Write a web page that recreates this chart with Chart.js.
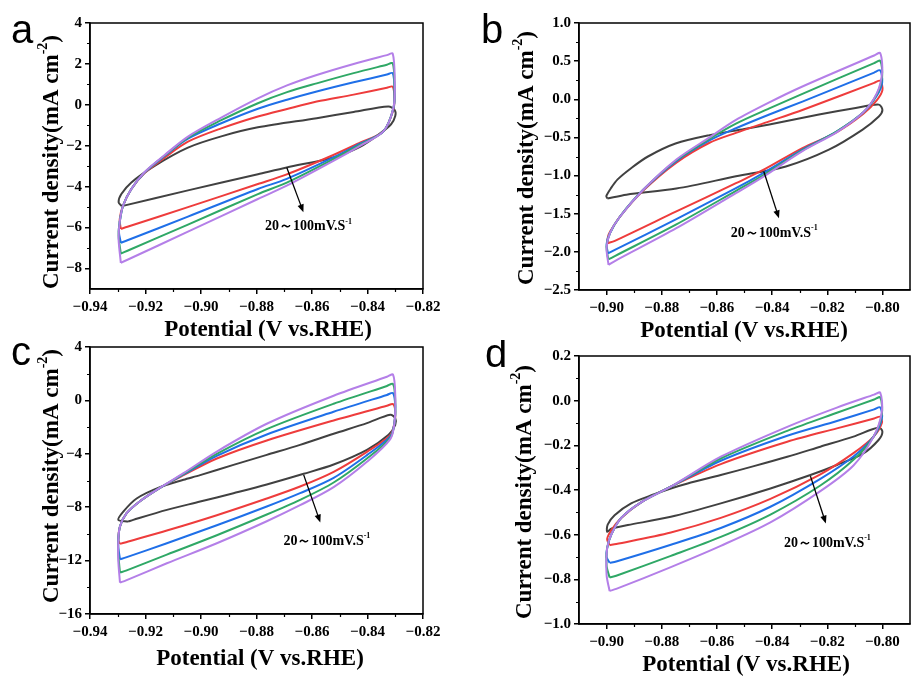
<!DOCTYPE html>
<html>
<head>
<meta charset="utf-8">
<script src="https://cdn.jsdelivr.net/npm/chart.js@4.4.0/dist/chart.umd.min.js"></script>
<style>
html, body { margin: 0; padding: 0; background: #fff; }
#wrap { position: relative; width: 911px; height: 680px; overflow: hidden; }
canvas { position: absolute; }
</style>
</head>
<body>
<div id="wrap">
  <canvas id="ca" width="455" height="346" style="left:0;top:0"></canvas>
  <canvas id="cb" width="456" height="346" style="left:455px;top:0"></canvas>
  <canvas id="cc" width="455" height="340" style="left:0;top:340px"></canvas>
  <canvas id="cd" width="456" height="340" style="left:455px;top:340px"></canvas>
</div>
<script>
'use strict';

// Scan rates 20, 40, 60, 80, 100 mV/s, each loop as [potential, current density]
const a20 = [[-0.9285,-4.95],[-0.9297,-4.76],[-0.9287,-4.36],[-0.9251,-3.79],[-0.9167,-2.98],[-0.9047,-2.09],[-0.8927,-1.54],[-0.8795,-1.10],[-0.8583,-0.65],[-0.8450,-0.35],[-0.8325,-0.08],[-0.8302,-0.25],[-0.8300,-0.55],[-0.8315,-0.95],[-0.8360,-1.45],[-0.8427,-2.05],[-0.8523,-2.57],[-0.8691,-3.06],[-0.8795,-3.39],[-0.9047,-4.18],[-0.9285,-4.95]];
const a40 = [[-0.9289,-6.06],[-0.9293,-5.60],[-0.9281,-4.93],[-0.9251,-4.11],[-0.9203,-3.33],[-0.9131,-2.58],[-0.9047,-1.80],[-0.8927,-1.15],[-0.8795,-0.57],[-0.8690,-0.20],[-0.8583,0.16],[-0.8450,0.50],[-0.8330,0.84],[-0.8309,0.89],[-0.8303,0.30],[-0.8308,-0.30],[-0.8343,-1.30],[-0.8427,-1.85],[-0.8523,-2.45],[-0.8691,-3.40],[-0.8795,-3.87],[-0.9047,-5.00],[-0.9265,-5.96],[-0.9289,-6.06]];
const a60 = [[-0.9289,-6.74],[-0.9296,-6.20],[-0.9293,-5.73],[-0.9281,-4.93],[-0.9251,-4.11],[-0.9203,-3.31],[-0.9131,-2.50],[-0.9047,-1.65],[-0.8927,-0.90],[-0.8795,-0.19],[-0.8690,0.25],[-0.8583,0.65],[-0.8450,1.10],[-0.8330,1.48],[-0.8309,1.55],[-0.8303,0.70],[-0.8306,-0.15],[-0.8343,-1.30],[-0.8427,-1.90],[-0.8523,-2.57],[-0.8691,-3.62],[-0.8795,-4.11],[-0.9047,-5.46],[-0.9265,-6.62],[-0.9289,-6.74]];
const a80 = [[-0.9289,-7.27],[-0.9297,-6.40],[-0.9293,-5.73],[-0.9281,-4.93],[-0.9251,-4.11],[-0.9203,-3.30],[-0.9131,-2.48],[-0.9047,-1.60],[-0.8927,-0.75],[-0.8795,0.08],[-0.8690,0.62],[-0.8583,1.05],[-0.8450,1.55],[-0.8330,1.96],[-0.8309,2.03],[-0.8303,1.00],[-0.8306,-0.10],[-0.8343,-1.30],[-0.8427,-1.95],[-0.8523,-2.65],[-0.8691,-3.80],[-0.8795,-4.36],[-0.9047,-5.85],[-0.9265,-7.13],[-0.9289,-7.27]];
const a100 = [[-0.9289,-7.72],[-0.9297,-6.54],[-0.9293,-5.73],[-0.9281,-4.93],[-0.9251,-4.11],[-0.9203,-3.28],[-0.9131,-2.45],[-0.9047,-1.55],[-0.8927,-0.62],[-0.8795,0.32],[-0.8690,0.95],[-0.8583,1.46],[-0.8450,2.00],[-0.8330,2.43],[-0.8309,2.50],[-0.8302,1.20],[-0.8306,-0.10],[-0.8343,-1.30],[-0.8427,-2.00],[-0.8523,-2.74],[-0.8691,-3.95],[-0.8795,-4.60],[-0.9047,-6.20],[-0.9265,-7.57],[-0.9289,-7.72]];

const b20 = [[-0.8997,-1.30],[-0.9001,-1.27],[-0.8985,-1.17],[-0.8960,-1.05],[-0.8910,-0.90],[-0.8850,-0.75],[-0.8750,-0.58],[-0.8627,-0.47],[-0.8500,-0.39],[-0.8410,-0.33],[-0.8230,-0.20],[-0.8097,-0.115],[-0.8013,-0.07],[-0.8000,-0.14],[-0.8013,-0.225],[-0.8073,-0.40],[-0.8194,-0.66],[-0.8350,-0.88],[-0.8531,-1.01],[-0.8747,-1.17],[-0.8928,-1.25],[-0.8997,-1.30]];
const b40 = [[-0.8997,-1.887],[-0.8995,-1.80],[-0.8988,-1.74],[-0.8952,-1.54],[-0.8868,-1.20],[-0.8747,-0.83],[-0.8627,-0.57],[-0.8531,-0.44],[-0.8410,-0.29],[-0.8290,-0.14],[-0.8030,0.215],[-0.8008,0.243],[-0.8000,0.12],[-0.8020,-0.01],[-0.8069,-0.19],[-0.8165,-0.43],[-0.8290,-0.64],[-0.8434,-0.93],[-0.8531,-1.10],[-0.8747,-1.47],[-0.8970,-1.855],[-0.8997,-1.887]];
const b60 = [[-0.8995,-2.02],[-0.9000,-1.90],[-0.8988,-1.756],[-0.8952,-1.54],[-0.8868,-1.19],[-0.8747,-0.81],[-0.8627,-0.54],[-0.8531,-0.38],[-0.8410,-0.20],[-0.8290,-0.03],[-0.8030,0.350],[-0.8008,0.378],[-0.8001,0.22],[-0.8020,0.05],[-0.8069,-0.17],[-0.8165,-0.42],[-0.8290,-0.66],[-0.8434,-0.97],[-0.8531,-1.165],[-0.8747,-1.57],[-0.8970,-1.975],[-0.8995,-2.02]];
const b80 = [[-0.8994,-2.10],[-0.9000,-1.93],[-0.8988,-1.756],[-0.8952,-1.54],[-0.8868,-1.19],[-0.8747,-0.80],[-0.8627,-0.52],[-0.8531,-0.32],[-0.8410,-0.12],[-0.8290,0.072],[-0.8030,0.475],[-0.8008,0.505],[-0.8001,0.30],[-0.8020,0.07],[-0.8069,-0.17],[-0.8165,-0.42],[-0.8290,-0.67],[-0.8434,-1.00],[-0.8531,-1.20],[-0.8747,-1.64],[-0.8970,-2.055],[-0.8994,-2.10]];
const b100 = [[-0.8993,-2.17],[-0.9000,-1.95],[-0.8988,-1.756],[-0.8952,-1.54],[-0.8868,-1.19],[-0.8747,-0.79],[-0.8627,-0.50],[-0.8531,-0.27],[-0.8410,-0.04],[-0.8290,0.168],[-0.8030,0.574],[-0.8008,0.606],[-0.8001,0.35],[-0.8020,0.08],[-0.8069,-0.17],[-0.8165,-0.43],[-0.8290,-0.68],[-0.8434,-1.02],[-0.8531,-1.23],[-0.8747,-1.69],[-0.8970,-2.12],[-0.8993,-2.17]];

const c20 = [[-0.9262,-9.08],[-0.9298,-8.95],[-0.9280,-8.33],[-0.9232,-7.35],[-0.9148,-6.50],[-0.9063,-5.95],[-0.9003,-5.60],[-0.8883,-4.83],[-0.8763,-4.08],[-0.8643,-3.33],[-0.8522,-2.50],[-0.8402,-1.70],[-0.8318,-1.08],[-0.8300,-1.33],[-0.8300,-1.83],[-0.8324,-2.58],[-0.8402,-3.70],[-0.8522,-4.80],[-0.8630,-5.50],[-0.8763,-6.30],[-0.8883,-6.95],[-0.9003,-7.58],[-0.9123,-8.20],[-0.9244,-8.95],[-0.9262,-9.08]];
const c40 = [[-0.9292,-10.75],[-0.9298,-10.45],[-0.9292,-9.45],[-0.9268,-8.45],[-0.9220,-7.55],[-0.9148,-6.55],[-0.9063,-5.60],[-0.8943,-4.35],[-0.8763,-3.00],[-0.8522,-1.50],[-0.8330,-0.40],[-0.8308,-0.28],[-0.8300,-0.80],[-0.8303,-1.70],[-0.8318,-2.60],[-0.8402,-3.85],[-0.8522,-5.35],[-0.8643,-6.45],[-0.8763,-7.35],[-0.8943,-8.60],[-0.9123,-9.75],[-0.9270,-10.62],[-0.9292,-10.75]];
const c60 = [[-0.9292,-11.90],[-0.9298,-11.00],[-0.9298,-10.45],[-0.9292,-9.45],[-0.9268,-8.45],[-0.9220,-7.55],[-0.9148,-6.55],[-0.9063,-5.55],[-0.8943,-4.15],[-0.8763,-2.55],[-0.8522,-0.85],[-0.8330,0.41],[-0.8308,0.55],[-0.8300,-0.40],[-0.8303,-1.70],[-0.8318,-2.70],[-0.8402,-4.10],[-0.8522,-5.80],[-0.8643,-6.95],[-0.8763,-7.95],[-0.8943,-9.35],[-0.9123,-10.70],[-0.9270,-11.76],[-0.9292,-11.90]];
const c80 = [[-0.9292,-12.90],[-0.9298,-11.50],[-0.9298,-10.45],[-0.9292,-9.45],[-0.9268,-8.45],[-0.9220,-7.55],[-0.9148,-6.55],[-0.9063,-5.50],[-0.8943,-4.00],[-0.8763,-2.15],[-0.8522,-0.25],[-0.8330,1.08],[-0.8308,1.23],[-0.8300,0.00],[-0.8303,-1.70],[-0.8318,-2.80],[-0.8402,-4.35],[-0.8522,-6.15],[-0.8643,-7.45],[-0.8763,-8.55],[-0.8943,-10.10],[-0.9123,-11.55],[-0.9270,-12.75],[-0.9292,-12.90]];
const c100 = [[-0.9292,-13.65],[-0.9298,-12.00],[-0.9298,-10.45],[-0.9292,-9.45],[-0.9268,-8.45],[-0.9220,-7.55],[-0.9148,-6.55],[-0.9063,-5.45],[-0.8943,-3.83],[-0.8763,-1.75],[-0.8522,0.35],[-0.8330,1.77],[-0.8308,1.93],[-0.8300,0.40],[-0.8303,-1.70],[-0.8318,-2.90],[-0.8402,-4.60],[-0.8522,-6.50],[-0.8643,-7.85],[-0.8763,-9.05],[-0.8943,-10.70],[-0.9123,-12.20],[-0.9270,-13.48],[-0.9292,-13.65]];

const d20 = [[-0.8983,-0.572],[-0.8998,-0.587],[-0.8996,-0.555],[-0.8971,-0.513],[-0.8911,-0.460],[-0.8827,-0.419],[-0.8767,-0.393],[-0.8706,-0.371],[-0.8586,-0.333],[-0.8466,-0.293],[-0.8345,-0.251],[-0.8225,-0.206],[-0.8105,-0.161],[-0.8014,-0.120],[-0.8000,-0.139],[-0.8014,-0.176],[-0.8069,-0.236],[-0.8165,-0.288],[-0.8261,-0.333],[-0.8406,-0.393],[-0.8586,-0.460],[-0.8767,-0.520],[-0.8923,-0.557],[-0.8983,-0.572]];
const d40 = [[-0.8989,-0.647],[-0.8998,-0.620],[-0.8983,-0.580],[-0.8947,-0.525],[-0.8875,-0.455],[-0.8767,-0.385],[-0.8586,-0.284],[-0.8345,-0.184],[-0.8165,-0.124],[-0.8030,-0.080],[-0.8008,-0.072],[-0.8002,-0.100],[-0.8032,-0.161],[-0.8105,-0.235],[-0.8225,-0.330],[-0.8406,-0.440],[-0.8586,-0.525],[-0.8767,-0.590],[-0.8965,-0.642],[-0.8989,-0.647]];
const d60 = [[-0.8989,-0.726],[-0.9000,-0.700],[-0.8998,-0.660],[-0.8983,-0.600],[-0.8947,-0.525],[-0.8875,-0.455],[-0.8767,-0.385],[-0.8586,-0.269],[-0.8345,-0.157],[-0.8165,-0.091],[-0.8030,-0.039],[-0.8008,-0.030],[-0.8002,-0.080],[-0.8032,-0.161],[-0.8105,-0.250],[-0.8225,-0.350],[-0.8406,-0.475],[-0.8586,-0.570],[-0.8767,-0.645],[-0.8965,-0.720],[-0.8989,-0.726]];
const d80 = [[-0.8989,-0.792],[-0.9000,-0.740],[-0.8998,-0.660],[-0.8983,-0.600],[-0.8947,-0.525],[-0.8875,-0.455],[-0.8767,-0.385],[-0.8586,-0.259],[-0.8345,-0.135],[-0.8165,-0.054],[-0.8030,0.005],[-0.8008,0.015],[-0.8002,-0.060],[-0.8032,-0.161],[-0.8105,-0.265],[-0.8225,-0.380],[-0.8406,-0.510],[-0.8586,-0.610],[-0.8767,-0.695],[-0.8965,-0.784],[-0.8989,-0.792]];
const d100 = [[-0.8989,-0.852],[-0.9000,-0.780],[-0.8998,-0.660],[-0.8983,-0.600],[-0.8947,-0.525],[-0.8875,-0.455],[-0.8767,-0.385],[-0.8586,-0.251],[-0.8345,-0.117],[-0.8165,-0.031],[-0.8030,0.027],[-0.8008,0.036],[-0.8002,-0.050],[-0.8032,-0.161],[-0.8105,-0.290],[-0.8225,-0.405],[-0.8406,-0.545],[-0.8586,-0.650],[-0.8767,-0.745],[-0.8965,-0.843],[-0.8989,-0.852]];

// Tick values
const xTicksAC = [-0.94, -0.92, -0.90, -0.88, -0.86, -0.84, -0.82];
const xTicksBD = [-0.90, -0.88, -0.86, -0.84, -0.82, -0.80];
const yTicksA = [-8, -6, -4, -2, 0, 2, 4];
const yTicksB = [-2.5, -2.0, -1.5, -1.0, -0.5, 0.0, 0.5, 1.0];
const yTicksC = [-16, -12, -8, -4, 0, 4];
const yTicksD = [-1.0, -0.8, -0.6, -0.4, -0.2, 0.0, 0.2];

const seriesColors = ['#414141', '#ee3c3c', '#1f6fe8', '#2fa866', '#b47fe8'];
const SERIF = "'Liberation Serif', 'Times New Roman', serif";

function fmt(dec) {
    return function(v) {
        const s = Math.abs(v).toFixed(dec);
        return (v < 0 && Number(s) !== 0 ? '\u2212' : '') + s;
    };
}

// Draw text made of normal and superscript parts
function drawRich(ctx, parts, x, y, size, align) {
    const big = `bold ${size}px ${SERIF}`;
    const small = `bold ${Math.round(size * 0.6)}px ${SERIF}`;
    let total = 0;
    parts.forEach(p => { ctx.font = p.sup ? small : big; total += ctx.measureText(p.t).width; });
    let cx = align === 'center' ? x - total / 2 : x;
    ctx.textAlign = 'left';
    parts.forEach(p => {
        ctx.font = p.sup ? small : big;
        ctx.fillText(p.t, cx, p.sup ? y - size * 0.38 : y);
        cx += ctx.measureText(p.t).width;
    });
}

function minorValues(min, max, step, majors) {
    const out = [];
    const n = Math.round((max - min) / step);
    for (let i = 1; i < n; i++) {
        const v = min + i * step;
        if (!majors.some(m => Math.abs(m - v) < step / 10)) out.push(v);
    }
    return out;
}

const decorPlugin = {
    id: 'decor',
    afterDraw(chart, args, opts) {
        const p = opts.panel;
        const ctx = chart.ctx, a = chart.chartArea;
        const xs = chart.scales.x, ys = chart.scales.y;
        ctx.save();
        ctx.strokeStyle = '#000';
        ctx.fillStyle = '#000';

        // box round the plot
        ctx.lineWidth = 1.5;
        ctx.strokeRect(a.left, a.top, a.right - a.left, a.bottom - a.top);

        // minor ticks
        ctx.lineWidth = 1.2;
        ctx.beginPath();
        minorValues(p.xRange[0], p.xRange[1], p.xMinor, p.xTicks).forEach(v => {
            const px = Math.round(xs.getPixelForValue(v)) + 0.5;
            ctx.moveTo(px, a.bottom); ctx.lineTo(px, a.bottom + 3);
        });
        minorValues(p.yRange[0], p.yRange[1], p.yMinor, p.yTicks).forEach(v => {
            const py = Math.round(ys.getPixelForValue(v)) + 0.5;
            ctx.moveTo(a.left, py); ctx.lineTo(a.left - 3, py);
        });
        ctx.stroke();

        // panel letter
        ctx.font = `40px 'Liberation Sans', Arial, sans-serif`;
        ctx.textAlign = 'left';
        ctx.textBaseline = 'alphabetic';
        ctx.fillText(p.letter, p.letterPos[0], p.letterPos[1]);

        // axis titles
        drawRich(ctx, [{t: 'Potential (V vs.RHE)'}], p.xTitle[0], p.xTitle[1], 23, 'center');
        ctx.save();
        ctx.translate(p.yTitle[0], p.yTitle[1]);
        ctx.rotate(-Math.PI / 2);
        ctx.textBaseline = 'middle';
        drawRich(ctx, [{t: 'Current density(mA cm'}, {t: '-2', sup: true}, {t: ')'}], 0, 0, 23, 'center');
        ctx.restore();

        // scan-rate arrow and note
        const x1 = xs.getPixelForValue(p.arrow[0]), y1 = ys.getPixelForValue(p.arrow[1]);
        const x2 = xs.getPixelForValue(p.arrow[2]), y2 = ys.getPixelForValue(p.arrow[3]);
        const ang = Math.atan2(y2 - y1, x2 - x1);
        ctx.lineWidth = 1.3;
        ctx.beginPath();
        ctx.moveTo(x1, y1);
        ctx.lineTo(x2 - 6 * Math.cos(ang), y2 - 6 * Math.sin(ang));
        ctx.stroke();
        ctx.beginPath();
        ctx.moveTo(x2, y2);
        ctx.lineTo(x2 - 8 * Math.cos(ang) + 3.2 * Math.sin(ang), y2 - 8 * Math.sin(ang) - 3.2 * Math.cos(ang));
        ctx.lineTo(x2 - 8 * Math.cos(ang) - 3.2 * Math.sin(ang), y2 - 8 * Math.sin(ang) + 3.2 * Math.cos(ang));
        ctx.closePath();
        ctx.fill();

        ctx.textBaseline = 'middle';
        drawRich(ctx, [{t: '20\uFF5E100mV.S'}, {t: '-1', sup: true}],
            xs.getPixelForValue(p.note[0]), ys.getPixelForValue(p.note[1]), 14, 'left');
        ctx.restore();
    }
};

const panels = [
    {id: 'ca', w: 455, h: 346, loops: [a20, a40, a60, a80, a100],
     xRange: [-0.94, -0.82], yRange: [-9, 4], xTicks: xTicksAC, yTicks: yTicksA, xMinor: 0.01, yMinor: 1, yDec: 0,
     area: {left: 90, top: 23, right: 423, bottom: 289},
     letter: 'a', letterPos: [11, 43], xTitle: [268, 336], yTitle: [52, 162],
     arrow: [-0.8691, -3.06, -0.8631, -5.25], note: [-0.8769, -5.96]},
    {id: 'cb', w: 456, h: 346, loops: [b20, b40, b60, b80, b100],
     xRange: [-0.91, -0.79], yRange: [-2.5, 1.0], xTicks: xTicksBD, yTicks: yTicksB, xMinor: 0.01, yMinor: 0.25, yDec: 1,
     area: {left: 124, top: 23, right: 455, bottom: 290},
     letter: 'b', letterPos: [26, 43], xTitle: [289, 337], yTitle: [72, 158],
     arrow: [-0.8430, -0.947, -0.8375, -1.56], note: [-0.8550, -1.756]},
    {id: 'cc', w: 455, h: 340, loops: [c20, c40, c60, c80, c100],
     xRange: [-0.94, -0.82], yRange: [-16, 4], xTicks: xTicksAC, yTicks: yTicksC, xMinor: 0.01, yMinor: 2, yDec: 0,
     area: {left: 90, top: 7, right: 423, bottom: 274},
     letter: 'c', letterPos: [11, 25], xTitle: [260, 325], yTitle: [52, 136],
     arrow: [-0.8630, -5.58, -0.8570, -9.15], note: [-0.8703, -10.58]},
    {id: 'cd', w: 456, h: 340, loops: [d20, d40, d60, d80, d100],
     xRange: [-0.91, -0.79], yRange: [-1.0, 0.2], xTicks: xTicksBD, yTicks: yTicksD, xMinor: 0.01, yMinor: 0.1, yDec: 1,
     area: {left: 124, top: 16, right: 455, bottom: 284},
     letter: 'd', letterPos: [30, 27], xTitle: [291, 331], yTitle: [70, 152],
     arrow: [-0.8261, -0.338, -0.8205, -0.55], note: [-0.8357, -0.64]}
];

function axisStyle() {
    return {
        grid: {display: true, drawOnChartArea: false, drawTicks: true, tickLength: 5, color: '#000', lineWidth: 1.5},
        border: {display: true, color: '#000', width: 1.5}
    };
}

function makePanel(p) {
    const tickFont = {family: SERIF, size: 15, weight: 'bold'};
    new Chart(document.getElementById(p.id), {
        type: 'scatter',
        data: {
            datasets: p.loops.map((loop, i) => ({
                data: loop.map(pt => ({x: pt[0], y: pt[1]})),
                showLine: true,
                borderColor: seriesColors[i],
                borderWidth: 2,
                pointRadius: 0,
                tension: 0.3,
                fill: false,
                order: p.loops.length - i
            }))
        },
        options: {
            responsive: false,
            animation: false,
            devicePixelRatio: 1,
            events: [],
            layout: {padding: {left: 0, top: p.area.top, right: p.w - p.area.right, bottom: 0}},
            plugins: {legend: {display: false}, tooltip: {enabled: false}, decor: {panel: p}},
            scales: {
                x: Object.assign(axisStyle(), {
                    type: 'linear', min: p.xRange[0], max: p.xRange[1],
                    afterBuildTicks: s => { s.ticks = p.xTicks.map(v => ({value: v})); },
                    afterFit: s => { s.height = p.h - p.area.bottom; s.paddingLeft = 0; s.paddingRight = 0; },
                    ticks: {callback: fmt(2), font: tickFont, color: '#000', padding: 4, maxRotation: 0, autoSkip: false}
                }),
                y: Object.assign(axisStyle(), {
                    type: 'linear', min: p.yRange[0], max: p.yRange[1],
                    afterBuildTicks: s => { s.ticks = p.yTicks.map(v => ({value: v})); },
                    afterFit: s => { s.width = p.area.left; s.paddingTop = 0; s.paddingBottom = 0; },
                    ticks: {callback: fmt(p.yDec), font: tickFont, color: '#000', padding: 3, autoSkip: false}
                })
            }
        },
        plugins: [decorPlugin]
    });
}

panels.forEach(makePanel);
</script>
</body>
</html>
